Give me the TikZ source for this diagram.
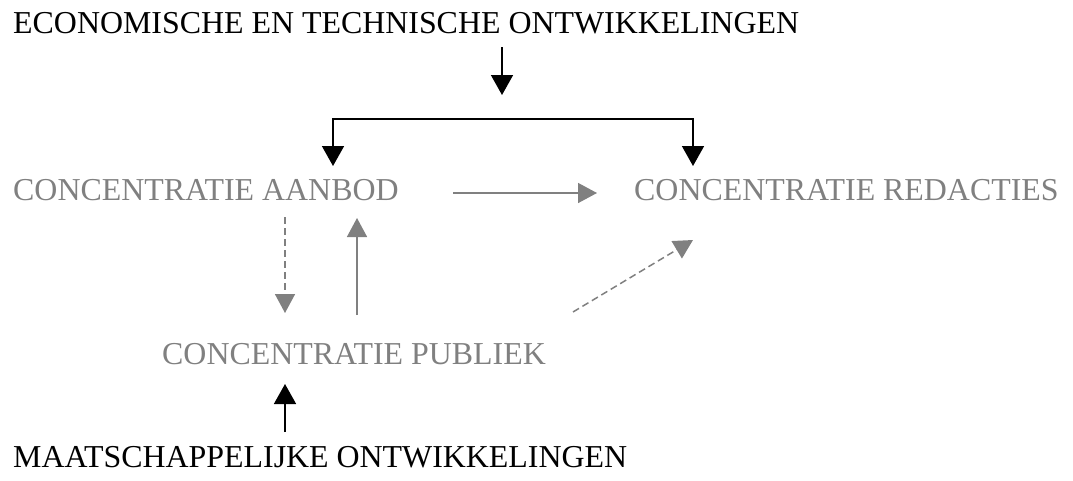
\documentclass[tikz,border=0pt]{standalone}
\usepackage{fontspec}
\setmainfont{Liberation Serif}
\usetikzlibrary{positioning,arrows.meta,calc}
\definecolor{lightgrey}{HTML}{808080}
\tikzset{
    x=1pt,
    y=-1pt,
    label/.style = {
        shape=rectangle,
        inner sep=0pt,
        anchor=base west,
        font=\fontsize{31.9}{38}\selectfont
    },
    greylabel/.style = {
        label,
        text=lightgrey
    },
    darrow/.style = {
        line width=1.6pt,
        -{Triangle[width=22pt,length=20pt]}
    },
    garrow/.style = {
        line width=1.5pt,
        color=lightgrey,
        -{Triangle[width=20pt,length=19pt]}
    },
    gdashed/.style = {
        garrow,
        dash pattern=on 7pt off 4pt
    },
}

\begin{document}
\begin{tikzpicture}
            \useasboundingbox (0,0) rectangle (1073,480);

            \node[label] (econ) at (13,33) {ECONOMISCHE EN TECHNISCHE ONTWIKKELINGEN};
            \node[greylabel] (aanbod) at (13,200) {CONCENTRATIE AANBOD};
            \node[greylabel] (redact) at (634,200) {CONCENTRATIE REDACTIES};
            \node[greylabel] (publiek) at (162,364) {CONCENTRATIE PUBLIEK};
            \node[label] (maatsch) at (13,467) {MAATSCHAPPELIJKE ONTWIKKELINGEN};

            \coordinate (econout) at (502,47);
            \coordinate (econin) at (502,95);
            \coordinate (split) at (502,119);
            \coordinate (aanbodin) at (333,166);
            \coordinate (redactin) at (693,166);
            \coordinate (aanbodout) at (453,193);
            \coordinate (redactleft) at (597,193);
            \coordinate (aanboddown) at (285,217);
            \coordinate (publiekup) at (285,313);
            \coordinate (publiekout) at (357,315);
            \coordinate (aanbodup) at (357,218);
            \coordinate (publiekright) at (573,312);
            \coordinate (redactdown) at (693,240);
            \coordinate (maatschout) at (285,432);
            \coordinate (publiekdown) at (285,384);

            \path[draw, darrow] (econout) -- (econin);
            \path[draw, darrow, {Triangle[width=22pt,length=20pt]}-{Triangle[width=22pt,length=20pt]}]
            (aanbodin) |- (split) -| (redactin);
            \path[draw, darrow] (maatschout) -- (publiekdown);

            \path[draw, garrow] (aanbodout) -- (redactleft);
            \path[draw, garrow] (publiekout) -- (aanbodup);
            \path[draw, gdashed] (aanboddown) -- (publiekup);
            \path[draw, gdashed] (publiekright) -- (redactdown);
        \end{tikzpicture}
\end{document}
